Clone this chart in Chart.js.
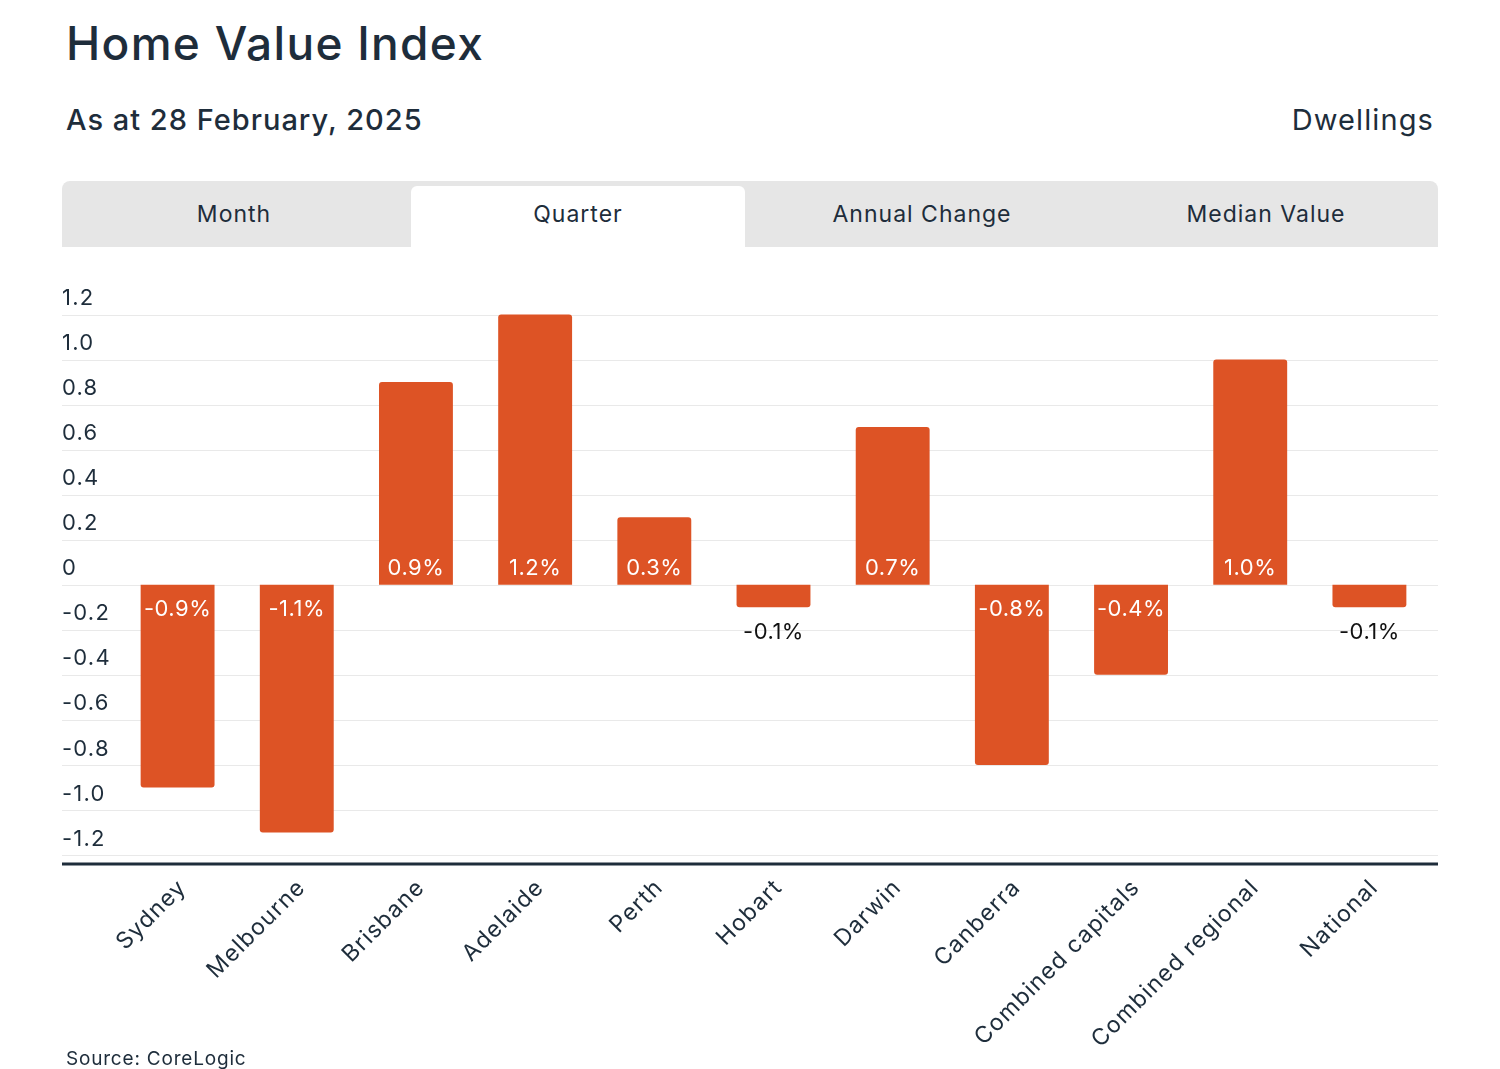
<!DOCTYPE html>
<html>
<head>
<meta charset="utf-8">
<script src="https://cdn.jsdelivr.net/npm/chart.js@4/dist/chart.umd.min.js"></script>
<style>
  body { margin: 0; background: #fff; font-family: Inter, "Open Sans", sans-serif; color: #1e2d3b; }
  .page { position: relative; width: 1500px; height: 1069px; overflow: hidden; }
  .title { position: absolute; left: 66px; top: 20px; font-size: 46px; line-height: 46px; font-weight: 500; letter-spacing: 1.3px; }
  .subtitle { position: absolute; left: 66px; top: 105px; font-size: 29px; line-height: 29px; font-weight: 500; letter-spacing: 1px; }
  .kind { position: absolute; right: 66px; top: 105px; font-size: 29px; line-height: 29px; font-weight: 400; letter-spacing: 1.1px; }
  .tabs { position: absolute; left: 62px; top: 181px; width: 1376px; height: 66px; background: #e6e6e6; border-radius: 8px 8px 0 0; }
  .tab { position: absolute; top: 0; width: 344px; height: 66px; display: flex; align-items: center; justify-content: center; font-size: 23px; letter-spacing: 1px; }
  .tab.active { top: 5px; height: 56px; padding-bottom: 5px; background: #fff; border-radius: 6px 6px 0 0; margin-left: 5px; width: 334px; }
  .chart-box { position: absolute; left: 62px; top: 262px; width: 1376px; height: 790px; }
  .source { position: absolute; left: 66px; top: 1049px; font-size: 19px; line-height: 19px; letter-spacing: 0.8px; }
</style>
</head>
<body>
<div class="page">
  <div class="title">Home Value Index</div>
  <div class="subtitle">As at 28 February, 2025</div>
  <div class="kind">Dwellings</div>
  <div class="tabs">
    <div class="tab" style="left:0">Month</div>
    <div class="tab active" style="left:344px">Quarter</div>
    <div class="tab" style="left:688px">Annual Change</div>
    <div class="tab" style="left:1032px">Median Value</div>
  </div>
  <div class="chart-box"><canvas id="chart"></canvas></div>
  <div class="source">Source: CoreLogic</div>
</div>
<script>
const regions = ['Sydney', 'Melbourne', 'Brisbane', 'Adelaide', 'Perth', 'Hobart', 'Darwin',
  'Canberra', 'Combined capitals', 'Combined regional', 'National'];
const quarterChange = [-0.9, -1.1, 0.9, 1.2, 0.3, -0.1, 0.7, -0.8, -0.4, 1.0, -0.1];
const yTicks = [-1.2, -1.0, -0.8, -0.6, -0.4, -0.2, 0, 0.2, 0.4, 0.6, 0.8, 1.0, 1.2];

const textColor = '#1e2d3b';
const barColor = '#dd5325';
const fontFamily = 'Inter, "Open Sans", sans-serif';

// a bit of tracking on the axis labels (reference font runs wider)
const tracking = {
  id: 'tracking',
  beforeDraw(chart) { chart.ctx.letterSpacing = '1.2px'; },
  afterDraw(chart) { chart.ctx.letterSpacing = '0px'; }
};

// gridlines across the whole width plus the dark base line
const fullGrid = {
  id: 'fullGrid',
  beforeDatasetsDraw(chart) {
    const { ctx, width } = chart;
    const y = chart.scales.y;
    ctx.save();
    ctx.strokeStyle = '#e9e9e9';
    ctx.lineWidth = 1;
    y.ticks.forEach(t => {
      const py = Math.round(y.getPixelForValue(t.value)) + 0.5;
      ctx.beginPath();
      ctx.moveTo(0, py);
      ctx.lineTo(width, py);
      ctx.stroke();
    });
    ctx.restore();
  },
  afterDatasetsDraw(chart) {
    const { ctx, width, chartArea } = chart;
    ctx.save();
    ctx.strokeStyle = textColor;
    ctx.lineWidth = 3;
    ctx.beginPath();
    ctx.moveTo(0, chartArea.bottom);
    ctx.lineTo(width, chartArea.bottom);
    ctx.stroke();
    ctx.restore();
  }
};

// value labels at the zero end of each bar
const barLabels = {
  id: 'barLabels',
  afterDatasetsDraw(chart) {
    const { ctx } = chart;
    const meta = chart.getDatasetMeta(0);
    ctx.save();
    ctx.letterSpacing = '0.5px';
    ctx.font = '22px ' + fontFamily;
    ctx.textAlign = 'center';
    ctx.textBaseline = 'middle';
    meta.data.forEach((bar, i) => {
      const v = quarterChange[i];
      const txt = v.toFixed(1) + '%';
      const h = Math.abs(bar.base - bar.y);
      if (h < 30) {
        ctx.fillStyle = '#111';
        ctx.fillText(txt, bar.x, v < 0 ? bar.y + 25 : bar.y - 18);
      } else {
        ctx.fillStyle = '#fff';
        ctx.fillText(txt, bar.x, v < 0 ? bar.base + 25 : bar.base - 16);
      }
    });
    ctx.restore();
  }
};

new Chart(document.getElementById('chart'), {
  type: 'bar',
  data: {
    labels: regions,
    datasets: [{
      data: quarterChange,
      backgroundColor: barColor,
      borderRadius: 3,
      barPercentage: 0.62,
      categoryPercentage: 1
    }]
  },
  options: {
    responsive: true,
    maintainAspectRatio: false,
    animation: false,
    layout: { padding: { top: 30, right: 9, left: 0, bottom: 0 } },
    plugins: {
      legend: { display: false },
      tooltip: { enabled: false }
    },
    scales: {
      x: {
        grid: { display: false },
        border: { display: false },
        ticks: {
          color: textColor,
          font: { family: fontFamily, size: 23 },
          minRotation: 45,
          maxRotation: 45,
          padding: 2,
          labelOffset: 5
        },
        afterFit(scale) { scale.height = 188; }
      },
      y: {
        min: -1.24,
        max: 1.3,
        grid: { display: false },
        border: { display: false },
        afterBuildTicks(scale) {
          scale.ticks = yTicks.map(v => ({ value: v }));
        },
        afterFit(scale) { scale.width = 56; },
        ticks: {
          color: textColor,
          font: { family: fontFamily, size: 22 },
          crossAlign: 'far',
          padding: 0,
          labelOffset: -16,
          callback: v => v === 0 ? '0' : Number(v).toFixed(1)
        }
      }
    }
  },
  plugins: [tracking, fullGrid, barLabels]
});
</script>
</body>
</html>
